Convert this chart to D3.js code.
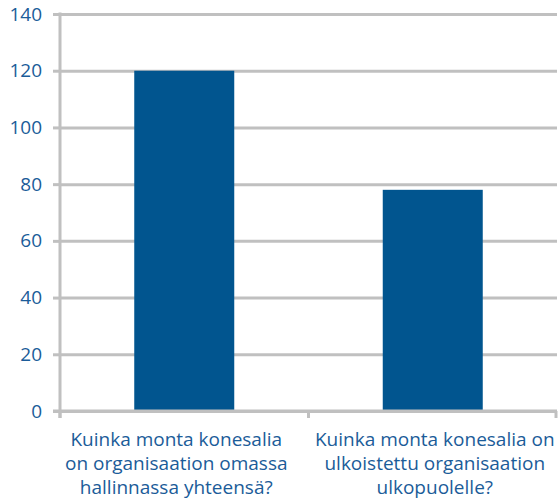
<!DOCTYPE html>
<html>
<head>
<meta charset="utf-8">
<script src="https://cdn.jsdelivr.net/npm/d3@7"></script>
<style>
  body { margin: 0; background: #fff; }
  text { font-family: "Open Sans", sans-serif; fill: #1b5c99; }
</style>
</head>
<body>
<div id="chart"></div>
<script>
// data
var categories = [
  ["Kuinka monta konesalia", "on organisaation omassa", "hallinnassa yhteensä?"],
  ["Kuinka monta konesalia on", "ulkoistettu organisaation", "ulkopuolelle?"]
];
var values = [120, 78];
var yTicks = [0, 20, 40, 60, 80, 100, 120, 140];

var margin = {top: 14, right: 1, bottom: 92, left: 60},
    width = 558 - margin.left - margin.right,
    height = 503 - margin.top - margin.bottom;

var keys = categories.map(function(d, i) { return i; });

var x = d3.scaleBand()
    .domain(keys)
    .range([0, width])
    .paddingInner(0)
    .paddingOuter(0);

var y = d3.scaleLinear()
    .domain([0, 140])
    .range([height, 0]);

var svg = d3.select("#chart").append("svg")
    .attr("width", 558)
    .attr("height", 503)
  .append("g")
    .attr("transform", "translate(" + margin.left + "," + margin.top + ")");

var gridColor = "#c0c0c0";

// gridlines + left ticks
var yAxis = svg.append("g")
    .attr("class", "y axis")
    .call(d3.axisLeft(y).tickValues(yTicks).tickSize(7).tickPadding(11));
yAxis.select(".domain").remove();
yAxis.selectAll(".tick line").attr("stroke", gridColor).attr("stroke-width", 3);
yAxis.selectAll(".tick text")
    .style("font-size", "19px")
    .attr("fill", "#1b5c99");

svg.append("g")
    .attr("class", "grid")
    .call(d3.axisLeft(y).tickValues(yTicks).tickSize(-width).tickFormat(""))
  .call(function(g) {
    g.select(".domain").remove();
    g.selectAll(".tick line").attr("stroke", gridColor).attr("stroke-width", 3);
  });

// bars
var barW = 100;
svg.selectAll(".bar")
    .data(values)
  .enter().append("rect")
    .attr("class", "bar")
    .attr("x", function(d, i) { return x(i) + x.bandwidth() / 2 - barW / 2; })
    .attr("y", function(d) { return y(d); })
    .attr("width", barW)
    .attr("height", function(d) { return height - y(d); })
    .attr("fill", "#01558f");

// y axis line
svg.append("line")
    .attr("x1", 0).attr("x2", 0)
    .attr("y1", y(140) - 1.5).attr("y2", height + 7)
    .attr("stroke", gridColor).attr("stroke-width", 3);

// x axis line + ticks at band edges
svg.append("line")
    .attr("x1", -7).attr("x2", width)
    .attr("y1", height).attr("y2", height)
    .attr("stroke", gridColor).attr("stroke-width", 3);

var edges = keys.map(function(k) { return x(k); }).concat([width - 1]);
svg.selectAll(".xtick")
    .data(edges)
  .enter().append("line")
    .attr("class", "xtick")
    .attr("x1", function(d) { return d; }).attr("x2", function(d) { return d; })
    .attr("y1", height).attr("y2", height + 7)
    .attr("stroke", gridColor).attr("stroke-width", 3);

// category labels
var labels = svg.selectAll(".cat")
    .data(categories)
  .enter().append("text")
    .attr("class", "cat")
    .attr("text-anchor", "middle")
    .attr("transform", function(d, i) { return "translate(" + (x(i) + x.bandwidth() / 2 - (i === 0 ? 8 : -2)) + "," + (height + 35) + ")"; })
    .style("font-size", "19px");

labels.selectAll("tspan")
    .data(function(d) { return d; })
  .enter().append("tspan")
    .attr("x", 0)
    .attr("y", function(d, i) { return i * 24; })
    .text(function(d) { return d; });
</script>
</body>
</html>
